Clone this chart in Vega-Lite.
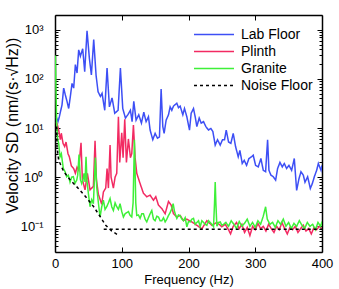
{
"$schema":"https://vega.github.io/schema/vega-lite/v6.json",
"width":267,"height":237,
"autosize":"none",
"padding":{"left":55,"top":15,"right":17,"bottom":37},
"background":"white",
"config":{"view":{"stroke":null},"font":"Liberation Sans",
 "axis":{"domainColor":"black","domainWidth":1.5,"tickColor":"black","tickWidth":1,"labelColor":"black","titleColor":"black","labelFont":"Liberation Sans","titleFont":"Liberation Sans","labelFontSize":13,"titleFontSize":13,"titleFontWeight":"normal","grid":false},
 "legend":{"labelFont":"Liberation Sans","labelFontSize":14,"labelColor":"black"}},
"data":{"values":[
{"freq":2,"sd":16.6,"series":"Lab Floor"},{"freq":4.5,"sd":13.5,"series":"Lab Floor"},{"freq":6.5,"sd":17,"series":"Lab Floor"},{"freq":10.5,"sd":29.5,"series":"Lab Floor"},{"freq":13,"sd":65,"series":"Lab Floor"},{"freq":15.5,"sd":47,"series":"Lab Floor"},{"freq":18,"sd":35,"series":"Lab Floor"},{"freq":20.5,"sd":25,"series":"Lab Floor"},{"freq":23,"sd":44,"series":"Lab Floor"},{"freq":25.5,"sd":81,"series":"Lab Floor"},{"freq":28,"sd":65,"series":"Lab Floor"},{"freq":30.5,"sd":195,"series":"Lab Floor"},{"freq":33,"sd":132,"series":"Lab Floor"},{"freq":35.5,"sd":390,"series":"Lab Floor"},{"freq":38,"sd":290,"series":"Lab Floor"},{"freq":41.5,"sd":410,"series":"Lab Floor"},{"freq":44.5,"sd":141,"series":"Lab Floor"},{"freq":48,"sd":950,"series":"Lab Floor"},{"freq":51.5,"sd":263,"series":"Lab Floor"},{"freq":54.5,"sd":120,"series":"Lab Floor"},{"freq":58,"sd":630,"series":"Lab Floor"},{"freq":61.5,"sd":120,"series":"Lab Floor"},{"freq":64.5,"sd":55,"series":"Lab Floor"},{"freq":68,"sd":44,"series":"Lab Floor"},{"freq":70.5,"sd":51,"series":"Lab Floor"},{"freq":74.5,"sd":23,"series":"Lab Floor"},{"freq":78,"sd":166,"series":"Lab Floor"},{"freq":81.5,"sd":27,"series":"Lab Floor"},{"freq":85.5,"sd":41,"series":"Lab Floor"},{"freq":89.5,"sd":20,"series":"Lab Floor"},{"freq":94.5,"sd":23,"series":"Lab Floor"},{"freq":98,"sd":166,"series":"Lab Floor"},{"freq":101.5,"sd":25,"series":"Lab Floor"},{"freq":105.5,"sd":16,"series":"Lab Floor"},{"freq":109.5,"sd":19,"series":"Lab Floor"},{"freq":113,"sd":23,"series":"Lab Floor"},{"freq":115.5,"sd":13.5,"series":"Lab Floor"},{"freq":118,"sd":35,"series":"Lab Floor"},{"freq":121.5,"sd":14.5,"series":"Lab Floor"},{"freq":125.5,"sd":18.6,"series":"Lab Floor"},{"freq":129.5,"sd":12.6,"series":"Lab Floor"},{"freq":133,"sd":21,"series":"Lab Floor"},{"freq":136.5,"sd":13.5,"series":"Lab Floor"},{"freq":140,"sd":17,"series":"Lab Floor"},{"freq":142.5,"sd":9.1,"series":"Lab Floor"},{"freq":146.5,"sd":5.8,"series":"Lab Floor"},{"freq":150,"sd":7.8,"series":"Lab Floor"},{"freq":153.5,"sd":6.2,"series":"Lab Floor"},{"freq":156.5,"sd":6.6,"series":"Lab Floor"},{"freq":159,"sd":62,"series":"Lab Floor"},{"freq":161.5,"sd":10.7,"series":"Lab Floor"},{"freq":163.5,"sd":7.8,"series":"Lab Floor"},{"freq":166.5,"sd":14.5,"series":"Lab Floor"},{"freq":170,"sd":18.6,"series":"Lab Floor"},{"freq":172.5,"sd":27,"series":"Lab Floor"},{"freq":175,"sd":23,"series":"Lab Floor"},{"freq":177.5,"sd":28,"series":"Lab Floor"},{"freq":182.5,"sd":32,"series":"Lab Floor"},{"freq":185,"sd":26,"series":"Lab Floor"},{"freq":187.5,"sd":28,"series":"Lab Floor"},{"freq":191.5,"sd":18.6,"series":"Lab Floor"},{"freq":194,"sd":25,"series":"Lab Floor"},{"freq":197.5,"sd":17,"series":"Lab Floor"},{"freq":201.5,"sd":9.1,"series":"Lab Floor"},{"freq":204,"sd":20,"series":"Lab Floor"},{"freq":207.5,"sd":25,"series":"Lab Floor"},{"freq":210,"sd":17,"series":"Lab Floor"},{"freq":212.5,"sd":10.7,"series":"Lab Floor"},{"freq":216,"sd":16,"series":"Lab Floor"},{"freq":219,"sd":12.6,"series":"Lab Floor"},{"freq":222.5,"sd":13.5,"series":"Lab Floor"},{"freq":226,"sd":10.7,"series":"Lab Floor"},{"freq":230,"sd":9.1,"series":"Lab Floor"},{"freq":233.5,"sd":9.8,"series":"Lab Floor"},{"freq":236.5,"sd":8.5,"series":"Lab Floor"},{"freq":240,"sd":4.5,"series":"Lab Floor"},{"freq":243.5,"sd":5.8,"series":"Lab Floor"},{"freq":247.5,"sd":4.5,"series":"Lab Floor"},{"freq":251,"sd":5.8,"series":"Lab Floor"},{"freq":254,"sd":5.8,"series":"Lab Floor"},{"freq":256.5,"sd":9.1,"series":"Lab Floor"},{"freq":260,"sd":5.2,"series":"Lab Floor"},{"freq":263.5,"sd":4.9,"series":"Lab Floor"},{"freq":267,"sd":7.8,"series":"Lab Floor"},{"freq":270.5,"sd":4.2,"series":"Lab Floor"},{"freq":274.5,"sd":2.6,"series":"Lab Floor"},{"freq":277,"sd":3.5,"series":"Lab Floor"},{"freq":280.5,"sd":1.9,"series":"Lab Floor"},{"freq":283.5,"sd":2.2,"series":"Lab Floor"},{"freq":287,"sd":1.74,"series":"Lab Floor"},{"freq":290.5,"sd":2.4,"series":"Lab Floor"},{"freq":294.5,"sd":2.6,"series":"Lab Floor"},{"freq":297,"sd":2.8,"series":"Lab Floor"},{"freq":300.5,"sd":1.74,"series":"Lab Floor"},{"freq":304.5,"sd":1.62,"series":"Lab Floor"},{"freq":308.5,"sd":2.4,"series":"Lab Floor"},{"freq":312,"sd":1.38,"series":"Lab Floor"},{"freq":315.5,"sd":1.29,"series":"Lab Floor"},{"freq":318.5,"sd":5.8,"series":"Lab Floor"},{"freq":320.5,"sd":1.38,"series":"Lab Floor"},{"freq":323.5,"sd":1.1,"series":"Lab Floor"},{"freq":327,"sd":1.02,"series":"Lab Floor"},{"freq":330.5,"sd":0.87,"series":"Lab Floor"},{"freq":333.5,"sd":1.5,"series":"Lab Floor"},{"freq":337,"sd":2.0,"series":"Lab Floor"},{"freq":340.5,"sd":1.62,"series":"Lab Floor"},{"freq":343.5,"sd":1.9,"series":"Lab Floor"},{"freq":347,"sd":1.5,"series":"Lab Floor"},{"freq":350.5,"sd":1.74,"series":"Lab Floor"},{"freq":354.5,"sd":1.38,"series":"Lab Floor"},{"freq":358.5,"sd":2.4,"series":"Lab Floor"},{"freq":362,"sd":0.54,"series":"Lab Floor"},{"freq":365.5,"sd":0.93,"series":"Lab Floor"},{"freq":368.5,"sd":1.29,"series":"Lab Floor"},{"freq":372,"sd":1.1,"series":"Lab Floor"},{"freq":374.5,"sd":0.79,"series":"Lab Floor"},{"freq":378.5,"sd":1.02,"series":"Lab Floor"},{"freq":382.5,"sd":0.59,"series":"Lab Floor"},{"freq":385.5,"sd":0.74,"series":"Lab Floor"},{"freq":388.5,"sd":1.02,"series":"Lab Floor"},{"freq":392,"sd":1.38,"series":"Lab Floor"},{"freq":394.5,"sd":1.9,"series":"Lab Floor"},{"freq":398.5,"sd":1.38,"series":"Lab Floor"},{"freq":400,"sd":1.74,"series":"Lab Floor"},
{"freq":1.5,"sd":13,"series":"Plinth"},{"freq":3,"sd":12.6,"series":"Plinth"},{"freq":5.5,"sd":9.1,"series":"Plinth"},{"freq":8,"sd":5.8,"series":"Plinth"},{"freq":9.5,"sd":7.8,"series":"Plinth"},{"freq":12,"sd":4.9,"series":"Plinth"},{"freq":14.5,"sd":4.2,"series":"Plinth"},{"freq":16.5,"sd":5.2,"series":"Plinth"},{"freq":19.5,"sd":3.0,"series":"Plinth"},{"freq":21.5,"sd":2.6,"series":"Plinth"},{"freq":24.5,"sd":1.7,"series":"Plinth"},{"freq":28,"sd":1.5,"series":"Plinth"},{"freq":30.5,"sd":1.2,"series":"Plinth"},{"freq":33,"sd":1.6,"series":"Plinth"},{"freq":35.5,"sd":1.4,"series":"Plinth"},{"freq":37,"sd":2.5,"series":"Plinth"},{"freq":39,"sd":5.0,"series":"Plinth"},{"freq":41,"sd":0.9,"series":"Plinth"},{"freq":45,"sd":0.55,"series":"Plinth"},{"freq":48.5,"sd":1.2,"series":"Plinth"},{"freq":52.5,"sd":0.55,"series":"Plinth"},{"freq":57.5,"sd":0.65,"series":"Plinth"},{"freq":60,"sd":5.5,"series":"Plinth"},{"freq":62,"sd":0.9,"series":"Plinth"},{"freq":65,"sd":0.45,"series":"Plinth"},{"freq":70,"sd":0.28,"series":"Plinth"},{"freq":72.5,"sd":0.5,"series":"Plinth"},{"freq":76,"sd":0.6,"series":"Plinth"},{"freq":78,"sd":1.5,"series":"Plinth"},{"freq":80,"sd":0.6,"series":"Plinth"},{"freq":82.5,"sd":4.5,"series":"Plinth"},{"freq":84,"sd":1.0,"series":"Plinth"},{"freq":87.5,"sd":0.6,"series":"Plinth"},{"freq":90,"sd":1.0,"series":"Plinth"},{"freq":92.5,"sd":1.2,"series":"Plinth"},{"freq":95,"sd":17,"series":"Plinth"},{"freq":97,"sd":2,"series":"Plinth"},{"freq":100,"sd":8,"series":"Plinth"},{"freq":102,"sd":2.5,"series":"Plinth"},{"freq":104.5,"sd":15,"series":"Plinth"},{"freq":107,"sd":2,"series":"Plinth"},{"freq":110,"sd":6,"series":"Plinth"},{"freq":113,"sd":2.5,"series":"Plinth"},{"freq":115,"sd":3,"series":"Plinth"},{"freq":117.5,"sd":11.5,"series":"Plinth"},{"freq":120,"sd":2.5,"series":"Plinth"},{"freq":122.5,"sd":1.2,"series":"Plinth"},{"freq":127.5,"sd":0.74,"series":"Plinth"},{"freq":132.5,"sd":0.47,"series":"Plinth"},{"freq":137.5,"sd":0.40,"series":"Plinth"},{"freq":142.5,"sd":0.43,"series":"Plinth"},{"freq":147.5,"sd":0.34,"series":"Plinth"},{"freq":151,"sd":0.40,"series":"Plinth"},{"freq":155,"sd":0.27,"series":"Plinth"},{"freq":160,"sd":0.23,"series":"Plinth"},{"freq":165,"sd":0.18,"series":"Plinth"},{"freq":170,"sd":0.32,"series":"Plinth"},{"freq":174,"sd":0.27,"series":"Plinth"},{"freq":177.5,"sd":0.18,"series":"Plinth"},{"freq":182.5,"sd":0.155,"series":"Plinth"},{"freq":187.5,"sd":0.166,"series":"Plinth"},{"freq":192.5,"sd":0.13,"series":"Plinth"},{"freq":197.5,"sd":0.14,"series":"Plinth"},{"freq":205,"sd":0.123,"series":"Plinth"},{"freq":212.5,"sd":0.105,"series":"Plinth"},{"freq":220,"sd":0.089,"series":"Plinth"},{"freq":227.5,"sd":0.13,"series":"Plinth"},{"freq":235,"sd":0.105,"series":"Plinth"},{"freq":242.5,"sd":0.12,"series":"Plinth"},{"freq":250,"sd":0.098,"series":"Plinth"},{"freq":255,"sd":0.11,"series":"Plinth"},{"freq":260,"sd":0.085,"series":"Plinth"},{"freq":263,"sd":0.07,"series":"Plinth"},{"freq":267,"sd":0.1,"series":"Plinth"},{"freq":272,"sd":0.12,"series":"Plinth"},{"freq":276,"sd":0.09,"series":"Plinth"},{"freq":280,"sd":0.11,"series":"Plinth"},{"freq":284,"sd":0.075,"series":"Plinth"},{"freq":288,"sd":0.095,"series":"Plinth"},{"freq":292,"sd":0.065,"series":"Plinth"},{"freq":296,"sd":0.1,"series":"Plinth"},{"freq":300,"sd":0.085,"series":"Plinth"},{"freq":304,"sd":0.115,"series":"Plinth"},{"freq":308,"sd":0.09,"series":"Plinth"},{"freq":312,"sd":0.1,"series":"Plinth"},{"freq":316,"sd":0.08,"series":"Plinth"},{"freq":320,"sd":0.11,"series":"Plinth"},{"freq":324,"sd":0.09,"series":"Plinth"},{"freq":328,"sd":0.075,"series":"Plinth"},{"freq":332,"sd":0.1,"series":"Plinth"},{"freq":336,"sd":0.085,"series":"Plinth"},{"freq":340,"sd":0.12,"series":"Plinth"},{"freq":344,"sd":0.09,"series":"Plinth"},{"freq":348,"sd":0.07,"series":"Plinth"},{"freq":352,"sd":0.095,"series":"Plinth"},{"freq":356,"sd":0.085,"series":"Plinth"},{"freq":360,"sd":0.1,"series":"Plinth"},{"freq":364,"sd":0.075,"series":"Plinth"},{"freq":368,"sd":0.09,"series":"Plinth"},{"freq":372,"sd":0.105,"series":"Plinth"},{"freq":376,"sd":0.08,"series":"Plinth"},{"freq":380,"sd":0.09,"series":"Plinth"},{"freq":384,"sd":0.07,"series":"Plinth"},{"freq":388,"sd":0.095,"series":"Plinth"},{"freq":392,"sd":0.085,"series":"Plinth"},{"freq":396,"sd":0.1,"series":"Plinth"},{"freq":400,"sd":0.09,"series":"Plinth"},
{"freq":0.5,"sd":300,"series":"Granite"},{"freq":1.5,"sd":60,"series":"Granite"},{"freq":2.5,"sd":12,"series":"Granite"},{"freq":4,"sd":6,"series":"Granite"},{"freq":5.5,"sd":4.9,"series":"Granite"},{"freq":7.5,"sd":2.6,"series":"Granite"},{"freq":9.5,"sd":3.0,"series":"Granite"},{"freq":12.5,"sd":1.5,"series":"Granite"},{"freq":15,"sd":1.3,"series":"Granite"},{"freq":17.5,"sd":1.02,"series":"Granite"},{"freq":20,"sd":1.1,"series":"Granite"},{"freq":22.5,"sd":0.79,"series":"Granite"},{"freq":25,"sd":1.0,"series":"Granite"},{"freq":27.5,"sd":1.02,"series":"Granite"},{"freq":30,"sd":0.75,"series":"Granite"},{"freq":32.5,"sd":0.87,"series":"Granite"},{"freq":34,"sd":1.1,"series":"Granite"},{"freq":36,"sd":2.9,"series":"Granite"},{"freq":38,"sd":0.9,"series":"Granite"},{"freq":40,"sd":0.74,"series":"Granite"},{"freq":42,"sd":0.9,"series":"Granite"},{"freq":43.5,"sd":1.2,"series":"Granite"},{"freq":45,"sd":0.8,"series":"Granite"},{"freq":46.5,"sd":2.6,"series":"Granite"},{"freq":48,"sd":0.8,"series":"Granite"},{"freq":50,"sd":0.47,"series":"Granite"},{"freq":52.5,"sd":0.25,"series":"Granite"},{"freq":55,"sd":0.35,"series":"Granite"},{"freq":57.5,"sd":0.29,"series":"Granite"},{"freq":60.5,"sd":2.5,"series":"Granite"},{"freq":62.5,"sd":0.63,"series":"Granite"},{"freq":65,"sd":0.3,"series":"Granite"},{"freq":67.5,"sd":0.155,"series":"Granite"},{"freq":70,"sd":0.25,"series":"Granite"},{"freq":72.5,"sd":0.34,"series":"Granite"},{"freq":75,"sd":0.22,"series":"Granite"},{"freq":77.5,"sd":0.25,"series":"Granite"},{"freq":80,"sd":0.3,"series":"Granite"},{"freq":82.5,"sd":0.37,"series":"Granite"},{"freq":85,"sd":0.25,"series":"Granite"},{"freq":87.5,"sd":0.21,"series":"Granite"},{"freq":90,"sd":0.3,"series":"Granite"},{"freq":92.5,"sd":0.25,"series":"Granite"},{"freq":95,"sd":0.22,"series":"Granite"},{"freq":97.5,"sd":0.29,"series":"Granite"},{"freq":100,"sd":0.2,"series":"Granite"},{"freq":102.5,"sd":0.155,"series":"Granite"},{"freq":105,"sd":0.18,"series":"Granite"},{"freq":107.5,"sd":0.19,"series":"Granite"},{"freq":110,"sd":0.2,"series":"Granite"},{"freq":112.5,"sd":0.167,"series":"Granite"},{"freq":115,"sd":0.155,"series":"Granite"},{"freq":117,"sd":0.3,"series":"Granite"},{"freq":119,"sd":5.8,"series":"Granite"},{"freq":121,"sd":0.3,"series":"Granite"},{"freq":122.5,"sd":0.166,"series":"Granite"},{"freq":125,"sd":0.17,"series":"Granite"},{"freq":127.5,"sd":0.145,"series":"Granite"},{"freq":130,"sd":0.18,"series":"Granite"},{"freq":132.5,"sd":0.18,"series":"Granite"},{"freq":135,"sd":0.14,"series":"Granite"},{"freq":137.5,"sd":0.123,"series":"Granite"},{"freq":140,"sd":0.15,"series":"Granite"},{"freq":142.5,"sd":0.18,"series":"Granite"},{"freq":145,"sd":0.21,"series":"Granite"},{"freq":147.5,"sd":0.14,"series":"Granite"},{"freq":150,"sd":0.13,"series":"Granite"},{"freq":152.5,"sd":0.16,"series":"Granite"},{"freq":155,"sd":0.155,"series":"Granite"},{"freq":157.5,"sd":0.13,"series":"Granite"},{"freq":160,"sd":0.13,"series":"Granite"},{"freq":162.5,"sd":0.15,"series":"Granite"},{"freq":165,"sd":0.123,"series":"Granite"},{"freq":167.5,"sd":0.14,"series":"Granite"},{"freq":170,"sd":0.166,"series":"Granite"},{"freq":172.5,"sd":0.19,"series":"Granite"},{"freq":175,"sd":0.23,"series":"Granite"},{"freq":177,"sd":0.29,"series":"Granite"},{"freq":179,"sd":0.2,"series":"Granite"},{"freq":182.5,"sd":0.145,"series":"Granite"},{"freq":185,"sd":0.17,"series":"Granite"},{"freq":187.5,"sd":0.166,"series":"Granite"},{"freq":190,"sd":0.14,"series":"Granite"},{"freq":192.5,"sd":0.13,"series":"Granite"},{"freq":195,"sd":0.15,"series":"Granite"},{"freq":197.5,"sd":0.098,"series":"Granite"},{"freq":200,"sd":0.125,"series":"Granite"},{"freq":202.5,"sd":0.123,"series":"Granite"},{"freq":205,"sd":0.14,"series":"Granite"},{"freq":207.5,"sd":0.145,"series":"Granite"},{"freq":210,"sd":0.11,"series":"Granite"},{"freq":212.5,"sd":0.12,"series":"Granite"},{"freq":215,"sd":0.13,"series":"Granite"},{"freq":217.5,"sd":0.098,"series":"Granite"},{"freq":220,"sd":0.13,"series":"Granite"},{"freq":222.5,"sd":0.12,"series":"Granite"},{"freq":225,"sd":0.11,"series":"Granite"},{"freq":227.5,"sd":0.105,"series":"Granite"},{"freq":230,"sd":0.13,"series":"Granite"},{"freq":232.5,"sd":0.12,"series":"Granite"},{"freq":235,"sd":0.11,"series":"Granite"},{"freq":237.5,"sd":0.098,"series":"Granite"},{"freq":239,"sd":0.3,"series":"Granite"},{"freq":240,"sd":0.8,"series":"Granite"},{"freq":241,"sd":0.3,"series":"Granite"},{"freq":242.5,"sd":0.1,"series":"Granite"},{"freq":245,"sd":0.12,"series":"Granite"},{"freq":247.5,"sd":0.123,"series":"Granite"},{"freq":250,"sd":0.105,"series":"Granite"},{"freq":252.5,"sd":0.11,"series":"Granite"},{"freq":256,"sd":0.12,"series":"Granite"},{"freq":260,"sd":0.1,"series":"Granite"},{"freq":264,"sd":0.13,"series":"Granite"},{"freq":268,"sd":0.11,"series":"Granite"},{"freq":272,"sd":0.09,"series":"Granite"},{"freq":276,"sd":0.125,"series":"Granite"},{"freq":280,"sd":0.1,"series":"Granite"},{"freq":284,"sd":0.115,"series":"Granite"},{"freq":288,"sd":0.14,"series":"Granite"},{"freq":292,"sd":0.1,"series":"Granite"},{"freq":296,"sd":0.12,"series":"Granite"},{"freq":300,"sd":0.095,"series":"Granite"},{"freq":304,"sd":0.13,"series":"Granite"},{"freq":308,"sd":0.11,"series":"Granite"},{"freq":312,"sd":0.16,"series":"Granite"},{"freq":315.5,"sd":0.25,"series":"Granite"},{"freq":318,"sd":0.14,"series":"Granite"},{"freq":322,"sd":0.11,"series":"Granite"},{"freq":326,"sd":0.12,"series":"Granite"},{"freq":330,"sd":0.095,"series":"Granite"},{"freq":334,"sd":0.13,"series":"Granite"},{"freq":338,"sd":0.11,"series":"Granite"},{"freq":342,"sd":0.14,"series":"Granite"},{"freq":346,"sd":0.1,"series":"Granite"},{"freq":350,"sd":0.12,"series":"Granite"},{"freq":354,"sd":0.09,"series":"Granite"},{"freq":358,"sd":0.115,"series":"Granite"},{"freq":362,"sd":0.1,"series":"Granite"},{"freq":366,"sd":0.13,"series":"Granite"},{"freq":370,"sd":0.105,"series":"Granite"},{"freq":374,"sd":0.09,"series":"Granite"},{"freq":378,"sd":0.12,"series":"Granite"},{"freq":382,"sd":0.1,"series":"Granite"},{"freq":386,"sd":0.11,"series":"Granite"},{"freq":390,"sd":0.085,"series":"Granite"},{"freq":394,"sd":0.12,"series":"Granite"},{"freq":398,"sd":0.1,"series":"Granite"},{"freq":400,"sd":0.125,"series":"Granite"},
{"freq":2.5,"sd":10.7,"series":"Noise Floor","seg":"a"},{"freq":3,"sd":4.2,"series":"Noise Floor","seg":"a"},{"freq":5.5,"sd":2.2,"series":"Noise Floor","seg":"a"},{"freq":13,"sd":1.3,"series":"Noise Floor","seg":"a"},{"freq":23,"sd":0.87,"series":"Noise Floor","seg":"a"},{"freq":35,"sd":0.59,"series":"Noise Floor","seg":"a"},{"freq":48,"sd":0.37,"series":"Noise Floor","seg":"a"},{"freq":58,"sd":0.25,"series":"Noise Floor","seg":"a"},{"freq":68,"sd":0.155,"series":"Noise Floor","seg":"a"},{"freq":76,"sd":0.105,"series":"Noise Floor","seg":"a"},{"freq":85,"sd":0.08,"series":"Noise Floor","seg":"a"},{"freq":95,"sd":0.066,"series":"Noise Floor","seg":"a"},
{"freq":73,"sd":0.087,"series":"Noise Floor","seg":"b"},{"freq":400,"sd":0.087,"series":"Noise Floor","seg":"b"}
]},
"layer":[
 {"mark":{"type":"line","strokeWidth":1.5,"clip":true},
  "encoding":{
   "x":{"field":"freq","type":"quantitative","scale":{"domain":[0,400],"nice":false,"zero":false},
        "axis":{"orient":"bottom","values":[0,100,200,300,400],"tickSize":-5,"labelPadding":10,"title":"Frequency (Hz)","titleY":31,"titleBaseline":"alphabetic","labelFlush":false}},
   "y":{"field":"sd","type":"quantitative","scale":{"type":"log","domain":[0.03,2000],"nice":false},
        "axis":{"orient":"left","values":[0.04,0.05,0.06,0.07,0.08,0.09,0.1,0.2,0.3,0.4,0.5,0.6,0.7,0.8,0.9,1,2,3,4,5,6,7,8,9,10,20,30,40,50,60,70,80,90,100,200,300,400,500,600,700,800,900,1000],
        "labelExpr":"datum.value == 1000 ? '10³' : datum.value == 100 ? '10²' : datum.value == 10 ? '10¹' : datum.value == 1 ? '10⁰' : datum.value == 0.1 ? '10⁻¹' : ''",
        "tickSize":{"condition":{"test":"indexof([0.1,1,10,100,1000], datum.value) >= 0","value":-5},"value":-3},
        "labelPadding":{"condition":{"test":"indexof([0.1,1,10,100,1000], datum.value) >= 0","value":17},"value":17},"labelOverlap":false,"labelBound":false,"labelFlush":false,
        "title":"Velocity SD (nm/(s·√Hz))","titleFontSize":16,"titleX":-43,"titleY":110,"titleBaseline":"middle"}},
   "color":{"field":"series","type":"nominal","scale":{"domain":["Lab Floor","Plinth","Granite","Noise Floor"],"range":["#3d4ff5","#f22a62","#3ef038","#000000"]},
        "legend":{"title":null,"orient":"none","legendX":138,"legendY":11,"symbolType":"stroke","symbolSize":1600,"symbolStrokeWidth":1.5,"clipHeight":17,"rowPadding":0,"labelOffset":6,"padding":0}},
   "strokeDash":{"field":"series","type":"nominal","scale":{"domain":["Lab Floor","Plinth","Granite","Noise Floor"],"range":[[1,0],[1,0],[1,0],[3,3]]},
        "legend":{"title":null,"orient":"none","legendX":138,"legendY":11,"symbolType":"stroke","symbolSize":1600,"symbolStrokeWidth":1.5,"clipHeight":17,"rowPadding":0,"labelOffset":6,"padding":0}},
   "detail":{"field":"seg","type":"nominal"}
  }},
 {"mark":{"type":"point","opacity":0},
  "encoding":{
   "x":{"field":"freq","type":"quantitative","axis":{"orient":"top","values":[0,100,200,300,400],"tickSize":-5,"labels":false,"title":null}},
   "y":{"field":"sd","type":"quantitative","scale":{"type":"log"},
        "axis":{"orient":"right","values":[0.04,0.05,0.06,0.07,0.08,0.09,0.1,0.2,0.3,0.4,0.5,0.6,0.7,0.8,0.9,1,2,3,4,5,6,7,8,9,10,20,30,40,50,60,70,80,90,100,200,300,400,500,600,700,800,900,1000],
        "tickSize":{"condition":{"test":"indexof([0.1,1,10,100,1000], datum.value) >= 0","value":-5},"value":-3},
        "labels":false,"title":null}}
  }}
],
"resolve":{"axis":{"x":"independent","y":"independent"}}
}
